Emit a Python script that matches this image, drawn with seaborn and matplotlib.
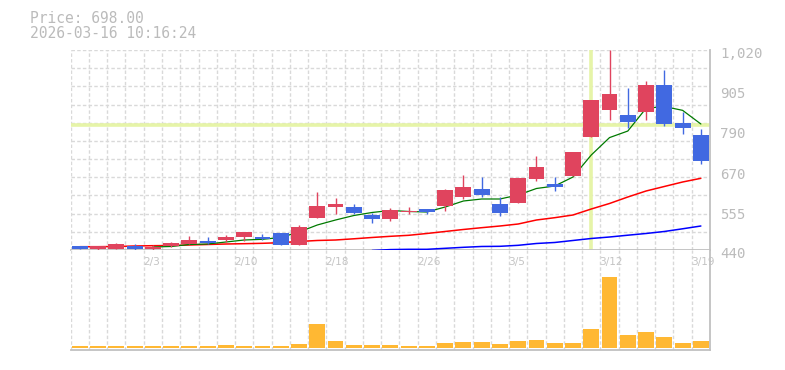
import numpy as np
import pandas as pd
import matplotlib
matplotlib.use("Agg")
import matplotlib.pyplot as plt
import matplotlib.transforms as mtransforms
import seaborn as sns

# ---------------- data ----------------
x_labels = ["2/3", "2/10", "2/18", "2/26", "3/5", "3/12", "3/19"]
x_label_idx = [4, 9, 14, 19, 24, 29, 34]

opens = [452, 443, 443, 452, 443, 453, 458, 466, 469, 477, 478, 490, 455, 534, 566, 565, 542, 531,
         549, 559, 569, 594, 617, 573, 577, 646, 631, 656, 769, 846, 832, 841, 919, 807, 774]
highs = [452, 451, 461, 457, 455, 464, 480, 478, 484, 492, 487, 490, 513, 608, 591, 572, 548, 562,
         564, 559, 618, 658, 652, 594, 649, 713, 651, 725, 875, 1020, 910, 930, 962, 840, 792]
lows = [443, 440, 443, 441, 441, 448, 458, 457, 463, 466, 469, 455, 455, 534, 543, 544, 519, 525,
        543, 543, 554, 588, 594, 539, 577, 640, 612, 656, 769, 818, 794, 817, 801, 776, 688]
closes = [443, 451, 457, 443, 449, 460, 469, 460, 478, 492, 472, 455, 507, 568, 573, 548, 531, 556,
          553, 550, 614, 623, 600, 547, 649, 681, 624, 725, 875, 892, 812, 919, 806, 795, 698]

volume = [21, 20, 20, 20, 20, 20, 20, 20, 28, 20, 20, 20, 38, 240, 70, 30, 30, 30,
          18, 18, 52, 62, 62, 42, 72, 78, 52, 52, 185, 710, 130, 153, 103, 52, 72]

ma_short_start = 4
ma_short = [448.7, 450.2, 456.0, 457.4, 463.2, 469.0, 471.0, 476.3, 492.2, 512.5, 527.0, 540.0,
            548.8, 554.6, 551.7, 550.2, 564.7, 582.1, 587.9, 587.9, 599.5, 618.4, 625.6, 651.7,
            715.5, 766.0, 785.0, 851.0, 856.0, 845.0, 805.4]
ma_mid_start = 0
ma_mid = [449.6, 449.6, 450.2, 451.6, 452.5, 453.0, 454.5, 456.0, 457.4, 458.3, 459.4, 461.2,
          464.7, 467.6, 469.0, 472.5, 476.3, 479.7, 482.6, 487.9, 493.7, 499.5, 504.7, 509.6,
          515.4, 527.0, 533.7, 541.5, 558.9, 574.9, 593.7, 611.1, 624.2, 637.2, 647.9]
ma_long_start = 16
ma_long = [438.6, 441.2, 442.0, 442.0, 444.9, 447.8, 450.2, 450.7, 453.6, 458.9, 461.8, 467.6,
           473.4, 477.7, 482.9, 487.9, 493.7, 501.5, 509.6]

y_ticks = [440, 555, 670, 790, 905, 1020]
y_tick_labels = ["440", "555", "670", "790", "905", "1,020"]

cursor_price = 802.5
cursor_idx = 28
header_lines = ["Price: 698.00", "2026-03-16 10:16:24"]

# ---------------- styling ----------------
RED = "#e0445e"
BLUE = "#4169e1"
VOL = "#ffb833"
GRID = "#d9d9d9"
AXIS = "#c0c0c0"
TXT = "#bbbbbb"
CURSOR = "#e6f4a8"

sns.set_style("white")
plt.rcParams['font.family'] = ['DejaVu Sans Mono', 'DejaVu Sans']

W, H = 785, 370
fig = plt.figure(figsize=(W / 100, H / 100), dpi=100)


def rect(l, t, r, b):
    return [l / W, 1 - b / H, (r - l) / W, (b - t) / H]


axp = fig.add_axes(rect(70.7, 50, 710, 250))
axv = fig.add_axes(rect(70.7, 250, 710, 350))

n = len(closes)
idx = np.arange(n)
df = pd.DataFrame({"i": idx, "open": opens, "high": highs, "low": lows,
                   "close": closes, "volume": volume})

# ---- price panel ----
axp.set_xlim(-0.5, n - 0.5)
axp.set_ylim(440, 1020)
dash = (0, (2.5, 1.6))
for k in range(n):
    axp.axvline(k - 0.5, color=GRID, lw=1.0, ls=dash, zorder=0)
for v in np.linspace(440, 1020, 12)[1:]:
    axp.axhline(v, color=GRID, lw=1.0, ls=dash, zorder=0)

axp.axhline(cursor_price, color=CURSOR, lw=2.6, zorder=1)
axp.axvline(cursor_idx, color=CURSOR, lw=2.6, zorder=1)

sns.lineplot(x=np.arange(ma_long_start, ma_long_start + len(ma_long)), y=ma_long,
             ax=axp, color="#0000ff", lw=1.1, zorder=3)
sns.lineplot(x=np.arange(ma_mid_start, ma_mid_start + len(ma_mid)), y=ma_mid,
             ax=axp, color="#ff0000", lw=1.1, zorder=3)
sns.lineplot(x=np.arange(ma_short_start, ma_short_start + len(ma_short)), y=ma_short,
             ax=axp, color="#007a00", lw=0.9, zorder=3)

up = df["close"] >= df["open"]
colors = np.where(up, RED, BLUE)
axp.vlines(df["i"], df["low"], df["high"], colors=colors, lw=1.0, zorder=5)
body_h = np.maximum((df["close"] - df["open"]).abs(), 2.5)
axp.bar(df["i"], body_h, bottom=np.minimum(df["open"], df["close"]), width=0.87,
        color=colors, linewidth=0, zorder=6)

axp.set_xticks([])
axp.set_yticks([])
axp.set_xlabel("")
axp.set_ylabel("")
for s in ["top", "left"]:
    axp.spines[s].set_visible(False)
axp.spines["bottom"].set_color(AXIS)
axp.spines["bottom"].set_linewidth(1.3)
axp.spines["right"].set_color(AXIS)
axp.spines["right"].set_linewidth(1.3)

ylab_tr = mtransforms.blended_transform_factory(axp.transAxes, axp.transData) + \
    mtransforms.ScaledTranslation(10.5 / 100, 2.5 / 100, fig.dpi_scale_trans)
for v, lab in zip(y_ticks, y_tick_labels):
    axp.text(1.0, v, lab, transform=ylab_tr, ha="left", va="top",
             fontsize=10.2, color=TXT, clip_on=False)

# ---- volume panel ----
axv.set_xlim(-0.5, n - 0.5)
axv.set_ylim(-23, 977)
for k in range(n):
    axv.axvline(k - 0.5, color=GRID, lw=1.0, ls=dash, zorder=0)
sns.barplot(data=df, x="i", y="volume", ax=axv, color=VOL, saturation=1,
            native_scale=True, width=0.87, errorbar=None, linewidth=0, zorder=2)
axv.set_xlim(-0.5, n - 0.5)
axv.set_ylim(-23, 977)
axv.set_xticks([])
axv.set_yticks([])
axv.set_xlabel("")
axv.set_ylabel("")
for s in ["top", "left"]:
    axv.spines[s].set_visible(False)
axv.spines["bottom"].set_color(AXIS)
axv.spines["bottom"].set_linewidth(1.3)
axv.spines["right"].set_color(AXIS)
axv.spines["right"].set_linewidth(1.3)

xlab_tr = mtransforms.blended_transform_factory(axv.transData, axv.transAxes)
for k, lab in zip(x_label_idx, x_labels):
    axv.text(k - 0.55, 0.875, lab, transform=xlab_tr, ha="left", va="center",
             fontsize=7.6, color="#c4c4c4", family=["DejaVu Sans"], clip_on=False, zorder=1)

# ---- header ----
fig.text(30 / W, 1 - 11 / H, header_lines[0], ha="left", va="top", fontsize=10.5, color=TXT)
fig.text(30 / W, 1 - 26 / H, header_lines[1], ha="left", va="top", fontsize=10.5, color=TXT)

fig.savefig("out.png", dpi=100)
